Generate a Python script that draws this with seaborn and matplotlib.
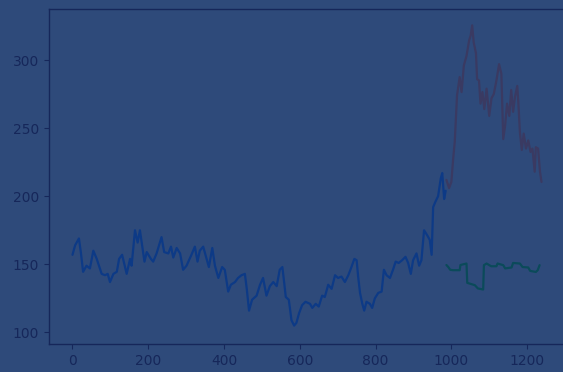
import numpy as np
import pandas as pd
import matplotlib
matplotlib.use("Agg")
import matplotlib.pyplot as plt
import seaborn as sns

# Training history (index, price)
train_idx = [0, 7, 17, 22, 28, 37, 46, 55, 64, 77, 86, 93, 99, 108, 117, 123, 131, 143, 152, 156,
             165, 172, 178, 190, 196, 207, 213, 222, 235, 242, 253, 260, 266, 275, 284, 292, 301, 314,
             323, 330, 336, 345, 354, 360, 369, 376, 385, 395, 402, 411, 418, 429, 437, 446, 455, 460,
             466, 474, 486, 495, 503, 512, 521, 530, 539, 547, 554, 559, 563, 571, 578, 585, 591, 598,
             606, 615, 627, 633, 642, 650, 659, 666, 675, 684, 693, 701, 710, 719, 728, 735, 744, 750,
             754, 759, 765, 770, 776, 785, 791, 798, 807, 816, 822, 829, 838, 846, 853, 861, 870, 879,
             886, 893, 899, 908, 915, 921, 928, 937, 943, 948, 952, 958, 965, 972, 976, 981, 985]
train_val = [157, 164, 169, 159, 144.5, 149, 147, 160, 154, 143, 142, 143, 137, 143, 144.5, 154, 157,
             143, 154, 149, 175, 166, 175, 152, 159, 154, 152, 158, 170, 159, 158, 163, 155, 162, 158,
             146, 149, 157, 163, 152, 160, 163, 154, 148, 162, 149, 140, 148, 146, 130, 135, 137, 140,
             142, 143, 132, 116, 124, 127, 135, 140, 127, 134, 137, 134, 146, 148, 136, 126, 124, 109,
             105, 107, 114, 120, 122.5, 121, 118, 121, 119, 127, 126, 135, 132, 142, 140, 141, 137, 142,
             147, 154, 153, 141, 129, 121, 116, 122.5, 121, 118, 125, 129, 130, 146, 142, 140, 146, 152,
             151, 153, 155.5, 151, 143, 153, 158, 149, 153, 175, 171, 168, 157, 192, 196, 200, 213, 217,
             198, 204]

# Actual prices over the validation window
valid_idx = [987, 994, 1000, 1005, 1009, 1015, 1022, 1027, 1033, 1040, 1047, 1051, 1055, 1059, 1065,
             1068, 1073, 1077, 1082, 1087, 1093, 1100, 1106, 1112, 1119, 1126, 1132, 1137, 1142, 1147,
             1153, 1158, 1163, 1168, 1174, 1177, 1181, 1186, 1191, 1197, 1203, 1209, 1214, 1220, 1223,
             1229, 1234, 1238]
valid_val = [212, 206, 210.5, 228, 240, 274, 287.5, 276.5, 296, 303, 314.5, 318, 325.5, 313, 305, 286,
             285, 268, 276.5, 264, 279, 259, 272, 275, 285, 297, 290, 242, 252, 268, 259, 278, 262, 273,
             281, 268, 247, 234, 246, 235, 241, 232.5, 235, 218, 236, 235, 218, 210.5]

# Model predictions over the same window
pred_idx = [987, 992, 997, 1004, 1022, 1024, 1040, 1042, 1062, 1070, 1084, 1086, 1093, 1105, 1119,
            1122, 1137, 1142, 1159, 1163, 1181, 1188, 1203, 1208, 1223, 1228, 1233]
pred_val = [149.5, 148, 146, 145.7, 145.7, 149.5, 150.6, 136.4, 134.7, 132.3, 131.5, 149.4, 150.6,
            148.6, 148.6, 150.6, 149.4, 147, 147.7, 151, 150.6, 148, 147.7, 145.2, 144.4, 145.7, 149.4]

bg = "#2e4a7a"
ink = "#16275a"

sns.set_theme(style="ticks", rc={
    "figure.facecolor": bg,
    "axes.facecolor": bg,
    "axes.edgecolor": ink,
    "xtick.color": ink,
    "ytick.color": ink,
    "text.color": ink,
    "axes.labelcolor": ink,
})
plt.rcParams["font.family"] = ["DejaVu Sans"]

fig = plt.figure(figsize=(5.63, 3.72), dpi=100)
ax = fig.add_axes([49 / 563, 28 / 372, 516 / 563, 335 / 372])

train = pd.DataFrame({"idx": train_idx, "val": train_val})
valid = pd.DataFrame({"idx": valid_idx, "val": valid_val})
pred = pd.DataFrame({"idx": pred_idx, "val": pred_val})

sns.lineplot(data=train, x="idx", y="val", ax=ax, color="#0d3a86", linewidth=1.6)
sns.lineplot(data=valid, x="idx", y="val", ax=ax, color="#3a3a62", linewidth=1.6)
sns.lineplot(data=pred, x="idx", y="val", ax=ax, color="#0b4a5a", linewidth=1.6)

ax.set_xlim(-62, 1300)
ax.set_ylim(91.5, 337.5)
ax.set_xticks([0, 200, 400, 600, 800, 1000, 1200])
ax.set_yticks([100, 150, 200, 250, 300])
ax.set_xlabel("")
ax.set_ylabel("")
ax.tick_params(labelsize=10, length=3.5, width=0.8)
for s in ax.spines.values():
    s.set_linewidth(1.0)

fig.savefig("out.png", dpi=100, facecolor=bg)
